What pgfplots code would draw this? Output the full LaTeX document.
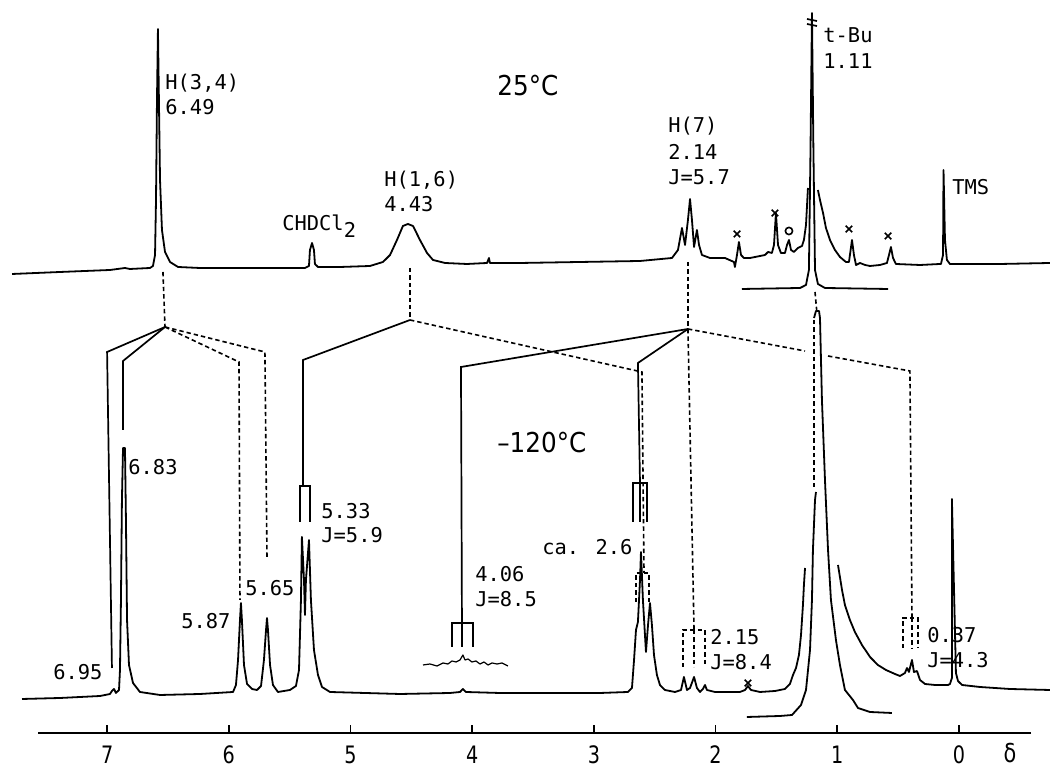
\documentclass[border=0pt]{standalone}
\usepackage{fontspec}
\setmainfont{DejaVu Sans Mono}
\newfontfamily\condsans[FakeStretch=0.9]{DejaVu Sans}
\newfontfamily\tickfont[FakeStretch=0.8]{DejaVu Sans}
\usepackage{pgfplots}
\pgfplotsset{compat=1.18}
\newcommand\lab{\fontsize{10.2pt}{12pt}\selectfont}
\newcommand\temp{\condsans\fontsize{13.7pt}{16pt}\selectfont}
\begin{document}
\begin{tikzpicture}[
  spec/.style={black, line width=0.9pt, line join=round},
  sol/.style={black, line width=0.85pt, line join=miter},
  dsh/.style={black, line width=0.8pt, dash pattern=on 2.2pt off 1.5pt},
  lbl/.style={anchor=base west, inner sep=0pt, font=\lab},
]
\begin{axis}[name=main, at={(0,0)}, anchor=south west, scale only axis,
  width=525pt, height=384.5pt, xmin=-0.748, xmax=7.880, x dir=reverse,
  ymin=0, ymax=769, hide axis, clip=false]
% ---------- 25 C spectrum ----------
\addplot[spec] coordinates {(7.781,495)(7.387,497)(6.976,499)(6.853,501)(6.812,500)(6.647,501)(6.623,503)(6.606,514)(6.598,569)(6.590,669)(6.582,740)(6.574,669)(6.565,589)(6.549,539)(6.524,517)(6.483,507)(6.417,502)(6.237,501)(5.826,501)(5.374,501)(5.341,503)(5.333,519)(5.316,526)(5.300,519)(5.292,505)(5.267,502)(5.086,502)(4.840,503)(4.733,507)(4.675,514)(4.618,529)(4.569,543)(4.528,545)(4.486,543)(4.429,529)(4.371,516)(4.322,509)(4.223,506)(4.043,505)(3.878,506)(3.862,511)(3.854,506)(3.607,506)(3.114,507)(2.621,508)(2.358,511)(2.309,519)(2.276,541)(2.251,524)(2.227,549)(2.210,570)(2.194,549)(2.177,522)(2.153,539)(2.136,524)(2.112,514)(2.046,511)(1.923,511)(1.849,507)(1.841,502)(1.824,514)(1.808,527)(1.791,514)(1.767,511)(1.717,511)(1.635,513)(1.594,514)(1.569,517)(1.537,516)(1.520,524)(1.504,556)(1.487,524)(1.463,516)(1.430,516)(1.413,524)(1.397,529)(1.380,519)(1.356,517)(1.323,521)(1.290,523)(1.274,529)(1.257,544)(1.241,581)};
\addplot[spec] coordinates {(1.159,579)(1.142,569)(1.117,556)(1.093,541)(1.060,529)(1.019,519)(0.978,512)(0.929,507)(0.904,507)(0.896,514)(0.879,529)(0.863,514)(0.846,504)(0.813,506)(0.772,504)(0.731,503)(0.649,504)(0.592,506)(0.575,514)(0.559,522)(0.542,511)(0.518,505)(0.320,504)(0.156,505)(0.148,505)(0.131,514)(0.127,599)(0.115,529)(0.099,509)(0.074,505)(-0.008,505)(-0.337,505)(-0.748,506)};
% t-Bu at reduced gain
\addplot[spec] coordinates {(1.783,480)(1.306,481)(1.257,484)(1.233,499)(1.220,619)(1.208,756)(1.196,619)(1.183,499)(1.159,485)(1.101,481)(0.583,480)};
\addplot[sol] coordinates {(1.249,750)(1.167,748)};
\addplot[sol] coordinates {(1.249,745)(1.167,743)};
% impurity marks
\addplot[only marks, mark=x, mark size=2.3pt, line width=0.8pt] coordinates {(1.824,535)(1.512,556)(0.904,540)(0.583,533)(1.734,86)};
\addplot[only marks, mark=o, mark size=1.8pt, line width=0.8pt] coordinates {(1.397,538)};
% ---------- -120 C spectrum ----------
\addplot[spec] coordinates {(7.699,70)(7.387,71)(7.058,73)(6.976,75)(6.960,78)(6.943,80)(6.927,76)(6.902,79)(6.894,99)(6.886,169)(6.878,269)(6.869,321)(6.853,321)(6.845,249)(6.836,149)(6.820,104)(6.787,86)(6.730,77)(6.565,74)(6.237,75)(5.965,77)(5.941,84)(5.924,109)(5.908,149)(5.900,166)(5.892,149)(5.875,104)(5.850,85)(5.809,80)(5.768,79)(5.735,83)(5.711,109)(5.694,139)(5.686,151)(5.678,139)(5.661,104)(5.637,84)(5.596,77)(5.497,79)(5.448,83)(5.423,99)(5.407,169)(5.399,232)(5.382,189)(5.374,154)(5.366,189)(5.341,229)(5.325,169)(5.300,119)(5.267,94)(5.234,82)(5.168,77)(4.593,75)(4.182,76)(4.100,77)(4.076,80)(4.051,77)(3.772,76)(3.361,76)(2.950,76)(2.720,77)(2.687,81)(2.670,109)(2.654,139)(2.638,147)(2.621,189)(2.613,217)(2.597,169)(2.572,117)(2.555,144)(2.539,166)(2.523,144)(2.506,114)(2.482,94)(2.457,84)(2.416,79)(2.334,77)(2.284,79)(2.260,92)(2.235,79)(2.210,81)(2.177,92)(2.153,81)(2.128,77)(2.104,80)(2.087,84)(2.071,79)(2.005,77)(1.800,77)(1.758,79)(1.734,83)(1.709,79)(1.635,77)(1.512,78)(1.430,80)(1.389,85)(1.364,94)(1.339,101)(1.315,114)(1.298,134)(1.282,164)(1.274,184)(1.265,201)};
\addplot[spec] coordinates {(0.994,204)(0.961,179)(0.937,164)(0.896,149)(0.855,137)(0.797,124)(0.731,112)(0.666,104)(0.600,99)(0.526,95)(0.485,93)(0.444,96)(0.427,101)(0.411,97)(0.386,109)(0.370,97)(0.345,98)(0.320,89)(0.279,85)(0.197,84)(0.090,84)(0.074,85)(0.058,91)(0.058,270)(0.025,96)(0.008,88)(-0.025,84)(-0.173,82)(-0.419,80)(-0.748,79)};
% t-Bu at reduced gain
\addplot[spec] coordinates {(1.742,52)(1.471,53)(1.372,54)(1.298,64)(1.257,79)(1.224,119)(1.208,169)(1.200,219)(1.183,269)(1.175,277)};
\addplot[dsh] coordinates {(1.191,282)(1.191,451)};
\addplot[spec] coordinates {(1.191,451)(1.175,458)(1.150,458)(1.142,451)(1.126,369)(1.101,289)(1.076,219)(1.052,169)(1.011,129)(0.978,104)(0.937,79)(0.871,69)(0.830,61)(0.731,57)(0.551,56)};
% 4.06 expansion
\addplot[spec, line width=0.6pt] coordinates {(4.404,104)(4.347,105)(4.289,103)(4.240,106)(4.199,105)(4.166,108)(4.133,107)(4.100,109)(4.076,114)(4.059,109)(4.034,110)(4.002,107)(3.969,108)(3.936,105)(3.903,107)(3.870,104)(3.837,106)(3.796,105)(3.755,106)(3.706,103)};
% ---------- correlation lines ----------
\addplot[dsh] coordinates {(6.541,497)(6.524,442)};
\addplot[dsh] coordinates {(4.511,501)(4.511,449)};
\addplot[dsh] coordinates {(2.227,507)(2.227,440)};
\addplot[dsh] coordinates {(1.183,477)(1.167,456)};
\addplot[sol] coordinates {(6.524,442)(7.000,417)(6.960,101)};
\addplot[sol] coordinates {(6.524,442)(6.869,408)(6.869,339)};
\addplot[dsh] coordinates {(6.524,442)(5.916,407)(5.908,169)};
\addplot[dsh] coordinates {(6.524,442)(5.703,417)(5.686,211)};
\addplot[sol] coordinates {(4.511,449)(5.390,409)(5.390,283)};
\addplot[sol] coordinates {(5.415,247)(5.415,283)(5.333,283)(5.333,247)};
\addplot[dsh] coordinates {(4.511,449)(2.605,397)(2.588,196)};
\addplot[sol] coordinates {(2.227,440)(4.092,402)(4.084,146)};
\addplot[sol] coordinates {(4.166,122)(4.166,146)(3.993,146)(3.993,122)};
\addplot[sol] coordinates {(4.084,146)(4.084,122)};
\addplot[sol] coordinates {(2.227,440)(2.638,406)(2.621,286)};
\addplot[sol] coordinates {(2.679,247)(2.679,286)(2.564,286)(2.564,247)};
\addplot[sol] coordinates {(2.621,286)(2.621,247)};
\addplot[dsh] coordinates {(2.654,167)(2.654,196)(2.547,196)(2.547,167)};
\addplot[dsh] coordinates {(2.227,440)(2.177,139)};
\addplot[dsh] coordinates {(2.268,102)(2.268,139)(2.087,139)(2.087,102)};
\addplot[dsh] coordinates {(2.177,139)(2.177,102)};
\addplot[dsh] coordinates {(2.227,440)(1.265,418)};
\addplot[dsh] coordinates {(1.076,413)(0.403,398)(0.386,151)};
\addplot[dsh] coordinates {(0.460,121)(0.460,151)(0.337,151)(0.337,121)};
\addplot[dsh] coordinates {(0.386,151)(0.386,121)};
% ---------- labels ----------
\node[lbl] at (axis cs:6.524,679) {H(3,4)};
\node[lbl] at (axis cs:6.524,654) {6.49};
\node[lbl] at (axis cs:5.563,538) {CHDCl\raisebox{-3.5pt}{2}};
\node[lbl] at (axis cs:4.725,582) {H(1,6)};
\node[lbl] at (axis cs:4.725,557) {4.43};
\node[anchor=base west, inner sep=0pt, font=\temp] at (axis cs:3.796,673) {25°C};
\node[lbl] at (axis cs:2.391,636) {H(7)};
\node[lbl] at (axis cs:2.391,609) {2.14};
\node[lbl] at (axis cs:2.391,584) {J=5.7};
\node[lbl] at (axis cs:1.117,726) {t-Bu};
\node[lbl] at (axis cs:1.117,700) {1.11};
\node[lbl] at (axis cs:0.058,574) {TMS};
\node[anchor=base west, inner sep=0pt, font=\temp] at (axis cs:3.796,316) {–120°C};
\node[lbl] at (axis cs:6.828,294) {6.83};
\node[lbl] at (axis cs:7.445,89) {6.95};
\node[lbl] at (axis cs:6.393,140) {5.87};
\node[lbl] at (axis cs:5.867,173) {5.65};
\node[lbl] at (axis cs:5.242,250) {5.33};
\node[lbl] at (axis cs:5.242,226) {J=5.9};
\node[lbl] at (axis cs:3.977,187) {4.06};
\node[lbl] at (axis cs:3.977,162) {J=8.5};
\node[lbl] at (axis cs:3.426,214) {ca. 2.6};
\node[lbl] at (axis cs:2.046,124) {2.15};
\node[lbl] at (axis cs:2.046,99) {J=8.4};
\node[lbl] at (axis cs:0.263,126) {0.37};
\node[lbl] at (axis cs:0.263,101) {J=4.3};
\node[anchor=base, inner sep=0pt, font=\tickfont\fontsize{13pt}{15pt}\selectfont] at (axis cs:-0.419,6) {δ};
\end{axis}
\begin{axis}[at={(19pt,18pt)}, anchor=south west, scale only axis,
  width=496.5pt, height=10pt, xmin=-0.592, xmax=7.568, x dir=reverse,
  ymin=0, ymax=1, axis x line*=bottom, axis y line=none,
  xtick={0,...,7}, tick align=inside, major tick length=4pt,
  axis line style={line width=0.9pt}, x tick style={line width=0.9pt, black},
  /pgf/number format/assume math mode=true,
  xticklabel style={font=\tickfont\fontsize{12pt}{14pt}\selectfont, yshift=-3pt}]
\end{axis}
\pgfresetboundingbox
\path[use as bounding box] (0,0) rectangle (525pt,384.5pt);
\end{tikzpicture}
\end{document}
